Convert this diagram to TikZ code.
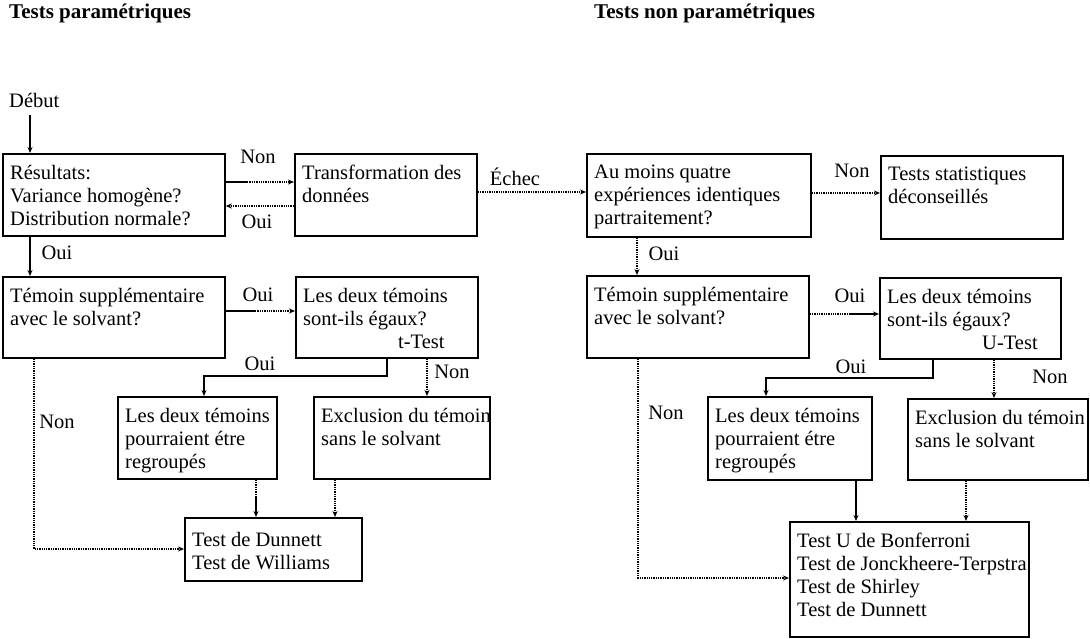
\documentclass[tikz,border=0pt]{standalone}
\usepackage{fontspec}
\setmainfont{Liberation Serif}
\usetikzlibrary{arrows.meta,calc}
\tikzset{
 box/.style={draw, line width=1.8pt, rectangle, inner sep=0pt, anchor=north west},
 txt/.style={align=left, inner xsep=8pt, inner ysep=12pt, anchor=north west, font=\fontsize{20.5}{23}\selectfont},
 lbl/.style={font=\fontsize{20.5}{23}\selectfont, inner sep=0pt},
 ttl/.style={font=\bfseries\fontsize{21}{23}\selectfont, inner sep=0pt, anchor=west},
 arr/.style={-{Stealth[length=6pt,width=5pt]}},
 sol/.style={line width=1.1pt},
 dot/.style={line width=1.3pt, densely dotted},
}
\newcommand{\bx}[6]{%
 \node[box, minimum width=#4pt, minimum height=#5pt] (#1) at (#2,#3) {};
 \node[txt] (#1t) at (#1.north west) {#6};}
\begin{document}
\begin{tikzpicture}[x=1pt,y=-1pt]
\useasboundingbox (0,0) rectangle (1090,638);
% titles
\node[ttl] (t1) at (9,13) {Tests paramétriques};
\node[ttl] (t2) at (594,13) {Tests non paramétriques};
\node[lbl, anchor=west] (debut) at (9,100) {Début};
% boxes
\bx{res}{2}{153}{222}{82}{Résultats:\\Variance homogène?\\Distribution normale?}
\bx{trans}{294}{153}{182}{82}{Transformation des\\données}
\bx{aum}{586}{153}{224}{83}{Au moins quatre\\expériences identiques\\partraitement?}
\bx{tst}{880}{155}{182}{83}{Tests statistiques\\déconseillés}
\bx{teml}{2}{276}{222}{81}{Témoin supplémentaire\\avec le solvant?}
\bx{ldl}{295}{276}{182}{81}{Les deux témoins\\sont-ils égaux?\\\hspace*{95pt}t-Test}
\bx{temr}{586}{275}{222}{82}{Témoin supplémentaire\\avec le solvant?}
\bx{ldr}{879}{277}{181}{81}{Les deux témoins\\sont-ils égaux?\\\hspace*{95pt}U-Test}
\bx{pourl}{117}{396}{159}{82}{Les deux témoins\\pourraient étre\\regroupés}
\bx{excl}{313}{396}{176}{82}{Exclusion du témoin\\sans le solvant}
\bx{pourr}{707}{396}{164}{83}{Les deux témoins\\pourraient étre\\regroupés}
\bx{exclr}{907}{398}{180}{81}{Exclusion du témoin\\sans le solvant}
\node[box, minimum width=177pt, minimum height=63pt] (testl) at (184,517) {};
\node[txt, inner ysep=15pt] (testlt) at (testl.north west) {Test de Dunnett\\Test de Williams};
\bx{testr}{789}{521}{239}{115}{Test U de Bonferroni\\Test de Jonckheere-Terpstra\\Test de Shirley\\Test de Dunnett}
% labels
\node[lbl] (l1) at (258,157) {Non};
\node[lbl] (l2) at (257,222) {Oui};
\node[lbl] (l3) at (515,177) {Échec};
\node[lbl] (l4) at (852,171) {Non};
\node[lbl] (l5) at (57,253) {Oui};
\node[lbl] (l6) at (664,254) {Oui};
\node[lbl] (l7) at (258,295) {Oui};
\node[lbl] (l8) at (850,296) {Oui};
\node[lbl] (l9) at (260,364) {Oui};
\node[lbl] (l10) at (452,372) {Non};
\node[lbl] (l11) at (851,367) {Oui};
\node[lbl] (l12) at (1050,377) {Non};
\node[lbl] (l13) at (57,422) {Non};
\node[lbl] (l14) at (666,413) {Non};
% connectors
\draw[sol,arr] ($(debut.south -| 30,0)+(0,8)$) -- (res.north -| 30,0);
\coordinate (m1) at (247,182);
\draw[sol] (res.east |- m1) -- (m1);
\draw[dot,arr] (m1) -- (trans.west |- m1);
\coordinate (y2) at (0,206);
\draw[dot,arr] (trans.west |- y2) -- (res.east |- y2);
\coordinate (y3) at (0,192);
\draw[dot,arr] (trans.east |- y3) -- (aum.west |- y3);
\coordinate (y4) at (0,193);
\draw[dot,arr] (aum.east |- y4) -- (tst.west |- y4);
\coordinate (x5) at (30,0);
\draw[sol,arr] (res.south -| x5) -- (teml.north -| x5);
\coordinate (x6) at (637,0);
\draw[dot,arr] (aum.south -| x6) -- (temr.north -| x6);
\coordinate (m7) at (255,311);
\draw[sol] (teml.east |- m7) -- (m7);
\draw[dot,arr] (m7) -- (ldl.west |- m7);
\coordinate (m8) at (850,314);
\draw[dot] (temr.east |- m8) -- (m8);
\draw[sol,arr] (m8) -- (ldr.west |- m8);
\coordinate (c1) at (204,376);
\coordinate (x9) at (387,0);
\draw[sol,arr] (ldl.south -| x9) |- (c1) -- (pourl.north -| c1);
\coordinate (x10) at (427,0);
\draw[dot,arr] (ldl.south -| x10) -- (excl.north -| x10);
\coordinate (c2) at (766,378);
\coordinate (x11) at (933,0);
\draw[sol,arr] (ldr.south -| x11) |- (c2) -- (pourr.north -| c2);
\coordinate (x12) at (994,0);
\draw[dot,arr] (ldr.south -| x12) -- (exclr.north -| x12);
\coordinate (c3) at (34,549);
\draw[dot,arr] (teml.south -| c3) |- (testl.west |- c3);
\coordinate (c4) at (638,578);
\draw[dot,arr] (temr.south -| c4) |- (testr.west |- c4);
\coordinate (c5) at (256,497);
\draw[dot] (pourl.south -| c5) -- (c5);
\draw[sol,arr] (c5) -- (testl.north -| c5);
\coordinate (x13) at (335,0);
\draw[dot,arr] (excl.south -| x13) -- (testl.north -| x13);
\coordinate (x14) at (856,0);
\draw[sol,arr] (pourr.south -| x14) -- (testr.north -| x14);
\coordinate (x15) at (966,0);
\draw[dot,arr] (exclr.south -| x15) -- (testr.north -| x15);
\end{tikzpicture}
\end{document}
